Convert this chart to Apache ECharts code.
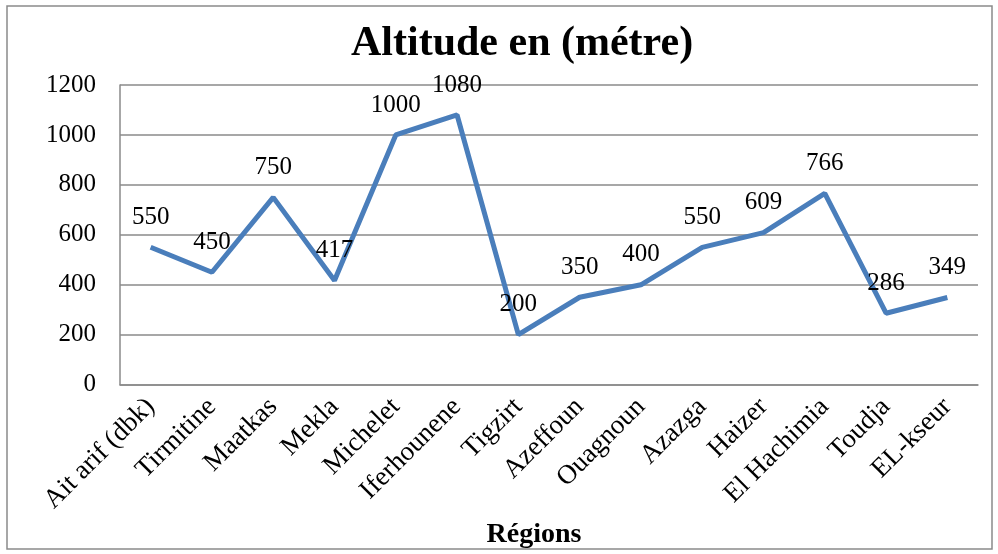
<!DOCTYPE html>
<html>
<head>
<meta charset="utf-8">
<script src="https://cdn.jsdelivr.net/npm/echarts@6/dist/echarts.min.js"></script>
<style>
  html, body { margin: 0; padding: 0; background: #fff; }
  #main { width: 998px; height: 554px; }
</style>
</head>
<body>
<div id="main"></div>
<script>
    // categories and values
    var regions = ['Ait arif (dbk)', 'Tirmitine', 'Maatkas', 'Mekla', 'Michelet', 'Iferhounene', 'Tigzirt',
        'Azeffoun', 'Ouagnoun', 'Azazga', 'Haizer', 'El Hachimia', 'Toudja', 'EL-kseur']
    var altitude = [550, 450, 750, 417, 1000, 1080, 200, 350, 400, 550, 609, 766, 286, 349]
    var yTicks = [0, 200, 400, 600, 800, 1000, 1200]

    var font = '"Liberation Serif", "Times New Roman", serif'
    var gridColor = '#8a8a8a'

    var chart = echarts.init(document.getElementById('main'))
    var option = {
        backgroundColor: '#fff',
        animation: false,
        textStyle: { fontFamily: font },
        title: {
            text: 'Altitude en (métre)',
            left: 346,
            top: 18,
            textStyle: {
                fontFamily: font,
                fontSize: 42,
                fontWeight: 'bold',
                color: '#000'
            }
        },
        graphic: [{
            type: 'rect',
            shape: { x: 7, y: 6, width: 985, height: 543 },
            style: { fill: 'none', stroke: gridColor, lineWidth: 1.5 },
            silent: true
        }],
        grid: {
            left: 120,
            right: 20,
            top: 85,
            bottom: 167
        },
        xAxis: {
            type: 'category',
            data: regions,
            boundaryGap: true,
            name: 'Régions',
            nameLocation: 'middle',
            nameGap: 132,
            nameTextStyle: {
                fontFamily: font,
                fontSize: 28,
                fontWeight: 'bold',
                color: '#000',
                padding: [0, 30, 0, 0]
            },
            axisLine: { lineStyle: { color: gridColor, width: 1.5 } },
            axisTick: { show: false },
            axisLabel: {
                rotate: 45,
                interval: 0,
                fontFamily: font,
                fontSize: 27,
                color: '#000',
                margin: 18
            }
        },
        yAxis: {
            type: 'value',
            min: yTicks[0],
            max: yTicks[yTicks.length - 1],
            interval: 200,
            axisLine: { show: true, lineStyle: { color: gridColor, width: 1.5 } },
            axisTick: { show: false },
            splitLine: { lineStyle: { color: gridColor, width: 1.5 } },
            axisLabel: {
                fontFamily: font,
                fontSize: 25,
                color: '#000',
                margin: 24,
                formatter: function (v) { return String(v) }
            }
        },
        series: [{
            type: 'line',
            name: 'Altitude',
            data: altitude,
            symbol: 'circle',
            symbolSize: 1,
            showSymbol: true,
            itemStyle: { color: 'rgba(0,0,0,0)' },
            lineStyle: { color: '#4A7EBB', width: 5 },
            label: {
                show: true,
                position: 'top',
                distance: 17,
                fontFamily: font,
                fontSize: 25,
                color: '#000'
            }
        }]
    }
    chart.setOption(option)
</script>
</body>
</html>
